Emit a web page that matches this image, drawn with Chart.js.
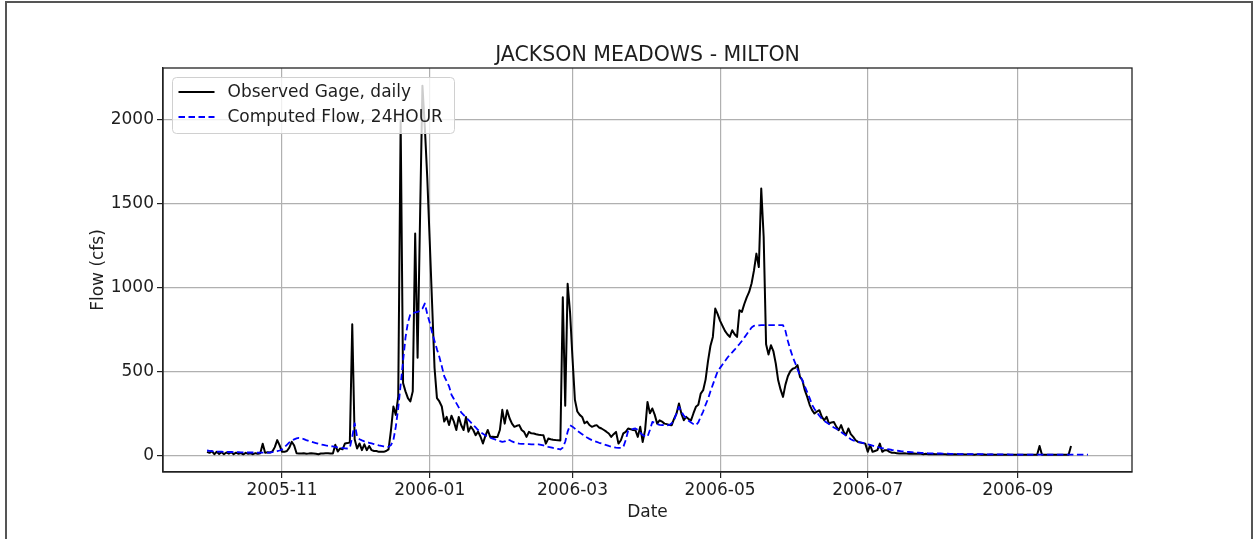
<!DOCTYPE html>
<html>
<head>
<meta charset="utf-8">
<script src="https://cdn.jsdelivr.net/npm/chart.js@4.4.1/dist/chart.umd.min.js"></script>
<style>
  html, body { margin: 0; padding: 0; background: #fff; overflow: hidden; }
  #frame { position: absolute; left: 5px; top: 1px; width: 1248px; height: 600px;
           border: 2px solid #555; box-sizing: border-box; }
  #wrap { position: absolute; left: 0; top: 0; width: 1257px; height: 539px; }
</style>
</head>
<body>
<div id="frame"></div>
<div id="wrap"><canvas id="chart" width="1257" height="539"></canvas></div>
<script>
// Daily series, day 0 = 2005-10-01
const startDate = '2005-10-01';

// Observed gage flow (cfs), daily, 2005-10-01 .. 2006-09-23
const observedFlow = [
  // Oct
  20,14,24,6,20,8,18,6,16,9, 18,6,15,8,13,5,14,8,11,6, 12,9,12,68,14,18,16,22,48,90, 58,
  // Nov
  20,20,25,45,80,58,12,10,10,11, 9,10,12,10,8,6,10,10,11,12, 10,10,62,22,40,35,70,72,75,780,
  // Dec
  95,40,70,30,65,30,55,30,25,25, 20,20,20,25,35,150,290,240,350,1990, 430,380,340,320,380,1320,580,1400,2200,1950, 1650,
  // Jan
  1280,900,520,340,320,290,200,228,180,235, 200,150,228,180,150,228,140,170,150,119, 140,110,70,115,150,109,110,108,109,150, 270,
  // Feb
  188,268,220,188,169,175,179,150,139,109, 139,130,129,125,122,120,119,69,99,95, 92,90,89,88,940,295,1020,850,
  // Mar
  580,330,260,240,228,190,200,180,169,175, 179,165,159,150,140,129,109,125,139,69, 89,130,139,159,155,150,149,109,169,79, 149,
  // Apr
  317,250,278,240,188,208,200,188,185,180, 179,218,248,308,248,208,228,215,208,250, 288,300,367,387,450,560,650,704,873,840,
  // May
  800,770,740,720,704,744,720,704,863,853, 900,940,972,1022,1100,1200,1120,1587,1300,660, 600,655,620,546,446,390,347,420,470,500, 515,
  // Jun
  520,536,466,446,387,347,300,268,248,260, 268,230,208,228,188,195,198,170,149,179, 140,119,159,125,109,89,79,75,72,69,
  // Jul
  20,60,20,25,30,69,20,30,30,20, 15,14,12,10,10,12,10,9,8,10, 8,9,8,6,8,6,5,7,5,6, 5,
  // Aug
  5,5,4,5,4,5,4,4,5,4, 4,4,4,3,4,4,3,4,3,3, 4,3,3,3,3,3,3,3,3,3, 3,
  // Sep
  3,3,3,3,3,3,3,3,3,55, 3,3,3,3,3,3,3,3,3,3, 3,3,55
];

// Computed flow (cfs), 24-hour time step, 2005-10-01 .. 2006-09-30
const computedFlow = [
  // Oct
  28,26,24,23,22,21,21,20,20,19, 19,18,18,18,17,17,17,16,16,16, 15,15,15,15,15,15,16,18,20,24, 28,
  // Nov
  35,48,62,76,86,94,100,103,100,96, 90,85,80,76,72,68,64,61,58,56, 54,52,49,47,45,43,41,40,44,110,
  // Dec
  190,110,95,88,82,78,74,70,66,62, 58,55,52,50,50,60,90,170,280,420, 560,700,790,840,845,850,853,860,873,903, 840,
  // Jan
  790,730,680,630,585,530,470,440,410,360, 335,310,285,255,240,225,210,195,180,165, 150,138,128,118,110,104,99,94,89,84, 79,
  // Feb
  82,93,90,82,76,72,69,68,67,66, 66,65,65,65,65,62,58,54,50,47, 43,40,37,34,45,80,140,179,
  // Mar
  170,158,145,135,125,115,105,97,90,84, 79,74,70,65,60,55,51,47,45,44, 43,48,90,145,152,156,159,150,135,120, 112,
  // Apr
  110,150,198,192,185,180,179,180,178,180, 190,208,250,288,260,235,220,205,195,185, 179,195,230,260,300,335,380,420,460,500,
  // May
  520,540,560,580,598,612,628,645,662,680, 700,720,740,760,770,772,773,774,774,774, 774,774,774,774,774,774,774,740,680,630, 585,
  // Jun
  550,510,475,445,410,375,340,300,275,255, 235,218,205,195,185,175,165,157,149,138, 127,117,107,95,88,84,80,76,73,69,
  // Jul
  65,61,57,53,49,45,42,40,37,34, 31,29,27,25,23,22,20,19,18,17, 16,15,14,13,12,11,11,10,10,10, 10,
  // Aug
  9,9,9,8,8,8,8,7,7,7, 7,7,6,6,6,6,6,6,5,5, 5,5,5,5,5,5,5,5,4,4, 4,
  // Sep
  4,4,4,4,4,4,4,4,4,4, 3,3,3,3,3,3,3,3,3,3, 3,3,3,3,3,3,3,3,3,3
];

const xTickDates = ['2005-11-01', '2006-01-01', '2006-03-01', '2006-05-01', '2006-07-01', '2006-09-01'];
const yTickValues = [0, 500, 1000, 1500, 2000];

const seriesLabels = ['Observed Gage, daily', 'Computed Flow, 24HOUR'];
const chartTitle = 'JACKSON MEADOWS - MILTON';

const DAY_MS = 86400000;
const t0 = Date.parse(startDate + 'T00:00:00Z');
const dayIndex = s => Math.round((Date.parse(s + 'T00:00:00Z') - t0) / DAY_MS);
const xTickDays = xTickDates.map(dayIndex);
const xTickLabels = xTickDates.map(s => s.slice(0, 7));

const lastDay = computedFlow.length - 1;
const xPad = lastDay * 0.05;

const FONT = '"DejaVu Sans", sans-serif';
const TEXT = '#1e1e1e';

const toPoints = arr => arr.map((v, i) => ({ x: i, y: v }));

// plot frame, title and an in-plot legend
const decorations = {
  id: 'decorations',
  afterDraw(chart) {
    const { ctx, chartArea: a } = chart;
    ctx.save();
    // frame around the plot area
    ctx.strokeStyle = '#222';
    ctx.lineWidth = 1.3;
    ctx.strokeRect(a.left, a.top, a.right - a.left, a.bottom - a.top);

    // title
    ctx.fillStyle = TEXT;
    ctx.font = '20.5px ' + FONT;
    ctx.textAlign = 'center';
    ctx.textBaseline = 'middle';
    ctx.fillText(chartTitle, (a.left + a.right) / 2, 55.5);

    // legend
    const bx = a.left + 9.5, by = a.top + 9.5, bw = 282, bh = 56, r = 4;
    ctx.beginPath();
    ctx.moveTo(bx + r, by);
    ctx.arcTo(bx + bw, by, bx + bw, by + bh, r);
    ctx.arcTo(bx + bw, by + bh, bx, by + bh, r);
    ctx.arcTo(bx, by + bh, bx, by, r);
    ctx.arcTo(bx, by, bx + bw, by, r);
    ctx.closePath();
    ctx.fillStyle = 'rgba(255,255,255,0.8)';
    ctx.fill();
    ctx.strokeStyle = '#d0d0d0';
    ctx.lineWidth = 1;
    ctx.stroke();

    ctx.font = '17px ' + FONT;
    ctx.textAlign = 'left';
    chart.data.datasets.forEach((ds, i) => {
      const y = by + 14.5 + i * 25;
      ctx.beginPath();
      ctx.setLineDash(ds.borderDash || []);
      ctx.strokeStyle = ds.borderColor;
      ctx.lineWidth = ds.borderWidth;
      ctx.moveTo(bx + 6, y);
      ctx.lineTo(bx + 42, y);
      ctx.stroke();
      ctx.setLineDash([]);
      ctx.fillStyle = TEXT;
      ctx.fillText(ds.label, bx + 55, y + 1);
    });
    ctx.restore();
  }
};

new Chart(document.getElementById('chart'), {
  type: 'line',
  data: {
    datasets: [
      {
        label: seriesLabels[0],
        data: toPoints(observedFlow),
        borderColor: '#000000',
        borderWidth: 2,
        pointRadius: 0,
        tension: 0,
        borderJoinStyle: 'round',
        order: 1
      },
      {
        label: seriesLabels[1],
        data: toPoints(computedFlow),
        borderColor: '#0000ff',
        borderWidth: 1.8,
        borderDash: [6.5, 3.5],
        pointRadius: 0,
        tension: 0,
        borderJoinStyle: 'round',
        order: 0
      }
    ]
  },
  options: {
    responsive: false,
    animation: false,
    devicePixelRatio: 1,
    layout: { padding: { left: 0, top: 68, right: 125, bottom: 0 } },
    plugins: {
      legend: { display: false },
      tooltip: { enabled: false },
      title: { display: false }
    },
    scales: {
      x: {
        type: 'linear',
        min: -xPad,
        max: lastDay + xPad,
        afterBuildTicks: s => { s.ticks = xTickDays.map(v => ({ value: v })); },
        afterFit: s => { s.height = 67; },
        ticks: {
          autoSkip: false,
          maxRotation: 0,
          padding: 2,
          color: TEXT,
          font: { family: FONT, size: 17 },
          callback: v => xTickLabels[xTickDays.indexOf(v)]
        },
        grid: { color: '#b0b0b0', lineWidth: 1.2, tickColor: '#222', tickLength: 6, tickWidth: 1.2 },
        border: { display: true, color: '#222', width: 1.3 },
        title: {
          display: true,
          text: 'Date',
          color: TEXT,
          font: { family: FONT, size: 17 },
          padding: { top: 0, bottom: 16 }
        }
      },
      y: {
        type: 'linear',
        min: -100,
        max: 2305,
        afterBuildTicks: s => { s.ticks = yTickValues.map(v => ({ value: v })); },
        afterFit: s => { s.width = 163; },
        ticks: {
          padding: 3,
          color: TEXT,
          font: { family: FONT, size: 17 },
          callback: v => String(v)
        },
        grid: { color: '#b0b0b0', lineWidth: 1.2, tickColor: '#222', tickLength: 6, tickWidth: 1.2 },
        border: { display: true, color: '#222', width: 1.3 },
        title: {
          display: true,
          text: 'Flow (cfs)',
          color: TEXT,
          font: { family: FONT, size: 17 },
          padding: { top: 88, bottom: 0 }
        }
      }
    }
  },
  plugins: [decorations]
});
</script>
</body>
</html>
